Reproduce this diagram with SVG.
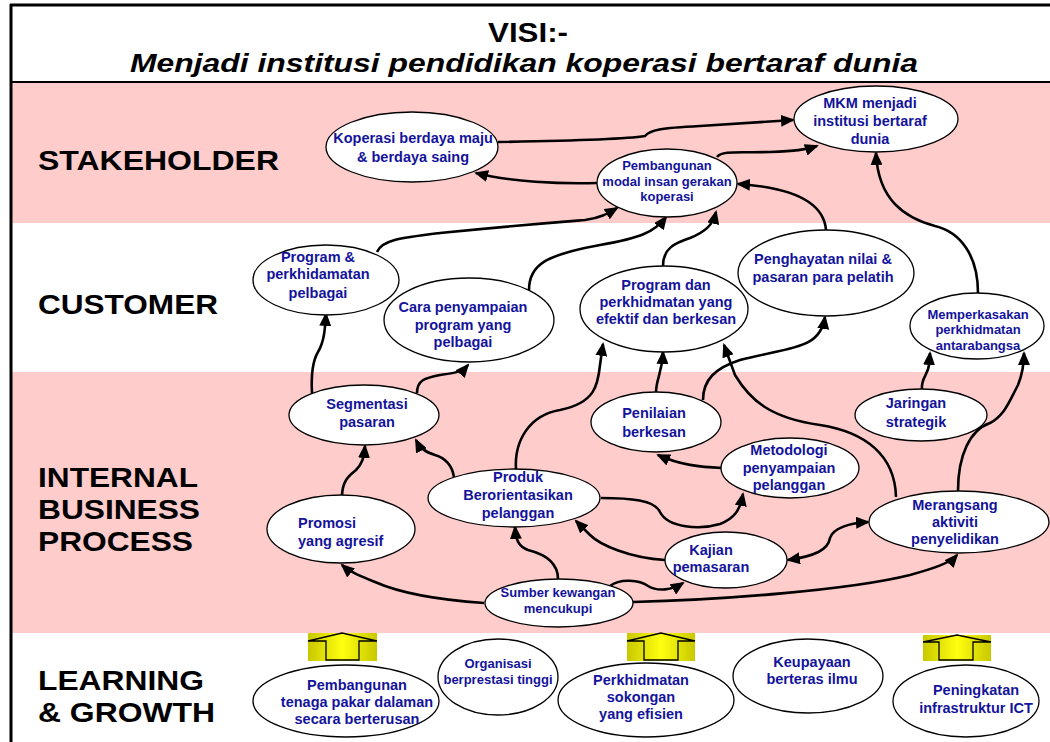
<svg xmlns="http://www.w3.org/2000/svg" width="1050" height="742" viewBox="0 0 1050 742">
<style>
.band{fill:#ffcccc}
.node ellipse{fill:#ffffff;stroke:#000000;stroke-width:1.3}
.node text{font-family:"Liberation Sans",Arial,sans-serif;font-weight:bold;font-size:14.5px;fill:#13139b;text-anchor:middle}
.node text.s{font-size:13px}
.lbl{font-family:"Liberation Sans",Arial,sans-serif;font-weight:bold;font-size:28.5px;fill:#000000}
.title{font-family:"Liberation Sans Narrow","Liberation Sans",Arial,sans-serif;font-weight:bold;fill:#000000}
#connectors path{fill:none;stroke:#000000;stroke-width:2.6;marker-end:url(#ah)}
.uparrow rect{fill:url(#yg)}
.uparrow path{fill:none;stroke:#000000;stroke-width:1.3}
</style>
<defs>
<marker id="ah" markerUnits="userSpaceOnUse" markerWidth="14" markerHeight="12" refX="12" refY="6" orient="auto">
<path d="M0,0 L14,6 L0,12 z" fill="#000000"/>
</marker>
<marker id="ahs" markerUnits="userSpaceOnUse" markerWidth="14" markerHeight="12" refX="12" refY="6" orient="auto-start-reverse">
<path d="M0,0 L14,6 L0,12 z" fill="#000000"/>
</marker>
<linearGradient id="yg" x1="0" y1="0" x2="1" y2="0">
<stop offset="0" stop-color="#c8c800"/>
<stop offset="0.5" stop-color="#ffff10"/>
<stop offset="1" stop-color="#c8c800"/>
</linearGradient>
</defs>

<rect x="0" y="0" width="1050" height="742" fill="#ffffff"/>
<rect class="band" x="11" y="83" width="1039" height="140"/>
<rect class="band" x="11" y="372" width="1039" height="261"/>
<line x1="10" y1="5" x2="1050" y2="5" stroke="#000" stroke-width="3"/>
<line x1="11" y1="4" x2="11" y2="742" stroke="#000" stroke-width="3"/>
<line x1="10" y1="82" x2="1050" y2="82" stroke="#000" stroke-width="2"/>

<text class="title" x="528" y="42" font-size="27" text-anchor="middle" textLength="80" lengthAdjust="spacingAndGlyphs">VISI:-</text>
<text class="title" x="130" y="72" font-size="26" font-style="italic" textLength="788" lengthAdjust="spacingAndGlyphs">Menjadi institusi pendidikan koperasi bertaraf dunia</text>

<text class="lbl" x="38" y="170" textLength="241" lengthAdjust="spacingAndGlyphs">STAKEHOLDER</text>
<text class="lbl" x="38" y="314" textLength="180" lengthAdjust="spacingAndGlyphs">CUSTOMER</text>
<text class="lbl" x="38" y="487" textLength="160" lengthAdjust="spacingAndGlyphs">INTERNAL</text>
<text class="lbl" x="38" y="519" textLength="162" lengthAdjust="spacingAndGlyphs">BUSINESS</text>
<text class="lbl" x="38" y="551" textLength="155" lengthAdjust="spacingAndGlyphs">PROCESS</text>
<text class="lbl" x="38" y="690" textLength="166" lengthAdjust="spacingAndGlyphs">LEARNING</text>
<text class="lbl" x="38" y="722" textLength="177" lengthAdjust="spacingAndGlyphs">&amp; GROWTH</text>

<g id="connectors">
<path d="M498,142 C560,141 620,140 645,136 C650,130 660,128 700,126 L793,120"/>
<path d="M597,183 C560,184 510,182 476,173"/>
<path d="M717,157 C722,150 740,153 770,152 C795,151 805,150 817,146"/>
<path d="M377,252 C382,240 400,238 440,233 C520,225 560,222 585,220 C600,218 607,214 617,208"/>
<path d="M529,290 C529,265 545,255 600,245 C640,238 655,232 666,217"/>
<path d="M663,266 C663,248 675,243 690,238 C705,232 713,225 716,212"/>
<path d="M826,230 C824,205 800,188 738,184"/>
<path d="M978,293 C978,255 960,232 935,226 C905,218 878,200 876,153"/>
<path d="M312,393 C311,375 312,362 318,352 C324,342 325,330 326,314"/>
<path d="M417,393 C417,380 425,378 440,375 C455,373 462,372 468,365"/>
<path d="M342,497 C342,480 350,475 356,470 C362,464 364,458 365,446"/>
<path d="M454,477 C452,465 445,458 435,455 C425,452 420,448 416,440"/>
<path d="M516,470 C514,440 530,415 560,410 C595,403 598,385 600,365 L603,344"/>
<path d="M656,393 C656,378 662,375 663,352"/>
<path d="M703,400 C703,380 715,368 740,360 C790,347 820,350 825,317"/>
<path d="M896,497 C895,455 865,432 820,425 C770,418 750,400 735,375 L724,345"/>
<path d="M722,468 C700,467 680,465 658,455"/>
<path d="M601,498 C630,498 655,500 660,512 C668,528 700,530 720,524 C735,518 740,510 743,494"/>
<path d="M665,560 C630,558 600,545 590,535 L576,521"/>
<path d="M558,579 C558,560 540,553 528,550 C518,546 516,540 515,527"/>
<path d="M484,603 C440,600 400,593 375,582 C360,576 350,572 342,565"/>
<path d="M610,586 C620,578 640,580 648,586 C658,592 672,590 683,583"/>
<path d="M633,602 C720,600 850,590 910,575 C935,568 950,563 957,555"/>
<path d="M788,560 C815,556 828,550 830,538 C833,528 850,523 868,522" marker-start="url(#ahs)"/>
<path d="M958,491 C958,455 970,430 990,423 C1005,415 1010,400 1018,385 C1022,375 1024,365 1024,353"/>
<path d="M922,389 C921,378 928,375 929,365 L930,353"/>
</g>

<g id="n-koperasi" class="node"><ellipse cx="412" cy="147" rx="86" ry="35"/><text x="413" y="143">Koperasi berdaya maju</text><text x="413" y="162">&amp; berdaya saing</text></g>
<g id="n-mkm" class="node"><ellipse cx="876" cy="119" rx="82" ry="33"/><text x="870" y="108">MKM menjadi</text><text x="870" y="126">institusi bertaraf</text><text x="870" y="144">dunia</text></g>
<g id="n-pembangunan-modal" class="node"><ellipse cx="667" cy="183" rx="70" ry="34"/><text class="s" x="667" y="170">Pembangunan</text><text class="s" x="667" y="186">modal insan gerakan</text><text class="s" x="667" y="201">koperasi</text></g>

<g id="n-program-pelbagai" class="node"><ellipse cx="326" cy="280" rx="73" ry="35"/><text x="318" y="262">Program &amp;</text><text x="318" y="279">perkhidamatan</text><text x="318" y="298">pelbagai</text></g>
<g id="n-cara" class="node"><ellipse cx="469" cy="320" rx="85" ry="42"/><text x="463" y="312">Cara penyampaian</text><text x="463" y="330">program yang</text><text x="463" y="347">pelbagai</text></g>
<g id="n-program-efektif" class="node"><ellipse cx="664" cy="309" rx="84" ry="43"/><text x="666" y="290">Program dan</text><text x="666" y="307">perkhidmatan yang</text><text x="666" y="324">efektif dan berkesan</text></g>
<g id="n-penghayatan" class="node"><ellipse cx="826" cy="273" rx="88" ry="43"/><text x="823" y="264">Penghayatan nilai &amp;</text><text x="823" y="282">pasaran para pelatih</text></g>
<g id="n-memperkasakan" class="node"><ellipse cx="977" cy="326" rx="67" ry="33"/><text class="s" x="978" y="319">Memperkasakan</text><text class="s" x="978" y="334">perkhidmatan</text><text class="s" x="978" y="350">antarabangsa</text></g>

<g id="n-segmentasi" class="node"><ellipse cx="364" cy="415" rx="75" ry="30"/><text x="367" y="409">Segmentasi</text><text x="367" y="427">pasaran</text></g>
<g id="n-penilaian" class="node"><ellipse cx="656" cy="422" rx="65" ry="30"/><text x="654" y="418">Penilaian</text><text x="654" y="437">berkesan</text></g>
<g id="n-jaringan" class="node"><ellipse cx="921" cy="415" rx="66" ry="26"/><text x="916" y="408">Jaringan</text><text x="916" y="427">strategik</text></g>
<g id="n-metodologi" class="node"><ellipse cx="790" cy="468" rx="69" ry="30"/><text x="789" y="455">Metodologi</text><text x="789" y="473">penyampaian</text><text x="789" y="490">pelanggan</text></g>
<g id="n-produk" class="node"><ellipse cx="514" cy="498" rx="86" ry="29"/><text x="518" y="482">Produk</text><text x="518" y="500">Berorientasikan</text><text x="518" y="518">pelanggan</text></g>
<g id="n-promosi" class="node"><ellipse cx="341" cy="529" rx="74" ry="34"/><text x="298" y="528" style="text-anchor:start">Promosi</text><text x="298" y="546" style="text-anchor:start">yang agresif</text></g>
<g id="n-merangsang" class="node"><ellipse cx="959" cy="522" rx="90" ry="31"/><text x="955" y="510">Merangsang</text><text x="955" y="527">aktiviti</text><text x="955" y="544">penyelidikan</text></g>
<g id="n-kajian" class="node"><ellipse cx="726" cy="560" rx="61" ry="28"/><text x="711" y="555">Kajian</text><text x="711" y="572">pemasaran</text></g>
<g id="n-sumber" class="node"><ellipse cx="559" cy="603" rx="74" ry="24"/><text class="s" x="558" y="597">Sumber kewangan</text><text class="s" x="558" y="613">mencukupi</text></g>

<g id="up1" class="uparrow"><rect x="308" y="633" width="69" height="28"/><path d="M308,641 L342,633 L377,641 L359,641 L359,660 L326,660 L326,641 Z"/></g>
<g id="up2" class="uparrow"><rect x="627" y="633" width="68" height="28"/><path d="M627,641 L661,633 L695,641 L678,641 L678,660 L644,660 L644,641 Z"/></g>
<g id="up3" class="uparrow"><rect x="923" y="635" width="68" height="26"/><path d="M923,642 L957,635 L991,642 L973,642 L973,660 L939,660 L939,642 Z"/></g>

<g id="n-tenaga" class="node"><ellipse cx="346" cy="701" rx="93" ry="36"/><text x="357" y="690">Pembangunan</text><text x="357" y="707">tenaga pakar dalaman</text><text x="357" y="724">secara berterusan</text></g>
<g id="n-organisasi" class="node"><ellipse cx="498" cy="677" rx="60" ry="38"/><text class="s" x="498" y="668">Organisasi</text><text class="s" x="498" y="684">berprestasi tinggi</text></g>
<g id="n-sokongan" class="node"><ellipse cx="646" cy="700" rx="88" ry="37"/><text x="641" y="685">Perkhidmatan</text><text x="641" y="702">sokongan</text><text x="641" y="719">yang efisien</text></g>
<g id="n-keupayaan" class="node"><ellipse cx="808" cy="676" rx="75" ry="37"/><text x="812" y="667">Keupayaan</text><text x="812" y="684">berteras ilmu</text></g>
<g id="n-ict" class="node"><ellipse cx="966" cy="701" rx="73" ry="36"/><text x="976" y="695">Peningkatan</text><text x="976" y="713">infrastruktur ICT</text></g>
</svg>
